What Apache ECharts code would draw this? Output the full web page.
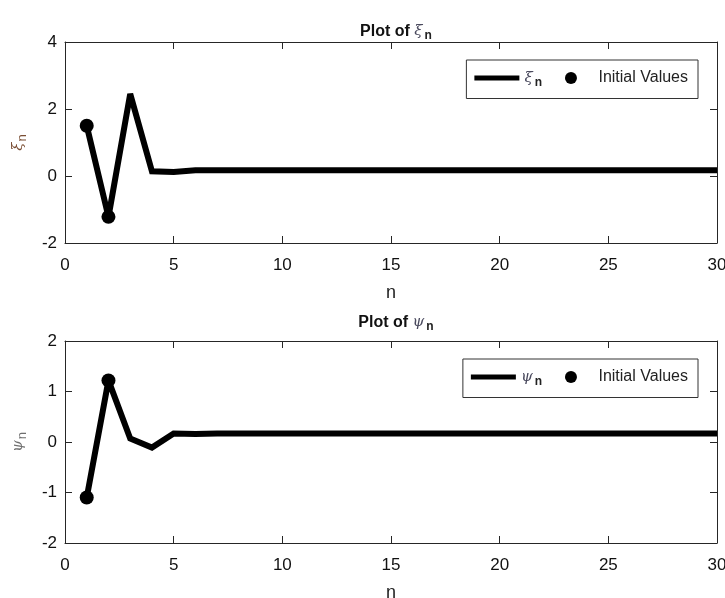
<!DOCTYPE html>
<html>
<head>
<meta charset="utf-8">
<script src="https://cdn.jsdelivr.net/npm/echarts@6/dist/echarts.min.js"></script>
<style>
  html, body { margin: 0; padding: 0; background: #fff; }
  #chart { width: 725px; height: 598px; }
</style>
</head>
<body>
<div id="chart"></div>
<script>
// step index n = 1..30
var nVals = [1, 2, 3, 4, 5, 6, 7, 8, 9, 10, 11, 12, 13, 14, 15,
             16, 17, 18, 19, 20, 21, 22, 23, 24, 25, 26, 27, 28, 29, 30];

// xi_n
var xiVals = [1.5, -1.22, 2.45, 0.14, 0.12, 0.17, 0.17, 0.17, 0.17, 0.17,
              0.17, 0.17, 0.17, 0.17, 0.17, 0.17, 0.17, 0.17, 0.17, 0.17,
              0.17, 0.17, 0.17, 0.17, 0.17, 0.17, 0.17, 0.17, 0.17, 0.17];

// psi_n
var psiVals = [-1.1, 1.22, 0.07, -0.11, 0.17, 0.16, 0.17, 0.17, 0.17, 0.17,
               0.17, 0.17, 0.17, 0.17, 0.17, 0.17, 0.17, 0.17, 0.17, 0.17,
               0.17, 0.17, 0.17, 0.17, 0.17, 0.17, 0.17, 0.17, 0.17, 0.17];

// initial values (first two steps)
var initN = [1, 2];
var xiInit = [1.5, -1.22];
var psiInit = [-1.1, 1.22];

var xTicks = { min: 0, max: 30, interval: 5 };
var xiTicks = { min: -2, max: 4, interval: 2 };
var psiTicks = { min: -2, max: 2, interval: 1 };

function pairs(xs, ys) {
  return xs.map(function (x, i) { return [x, ys[i]]; });
}

var FONT = '"Liberation Sans", Arial, sans-serif';
var AXIS_COLOR = '#262626';

var greekRich = {
  g: { fontFamily: '"DejaVu Serif", serif', fontStyle: 'italic', fontWeight: 'normal', fontSize: 15, color: '#4a4a5e' },
  s: { fontFamily: FONT, fontSize: 12, fontWeight: 'bold', color: '#222', padding: [9, 0, 0, 2] }
};

function bottomX(grid) {
  return {
    type: 'value', gridIndex: grid, min: xTicks.min, max: xTicks.max, interval: xTicks.interval,
    name: 'n', nameLocation: 'middle', nameGap: 41,
    nameTextStyle: { fontFamily: FONT, fontSize: 18, color: '#222' },
    axisLine: { onZero: false, lineStyle: { color: AXIS_COLOR, width: 1 } },
    axisTick: { inside: true, length: 7, lineStyle: { color: AXIS_COLOR } },
    axisLabel: { margin: 14, fontFamily: FONT, fontSize: 17, color: '#111' },
    splitLine: { show: false }
  };
}
function topX(grid) {
  return {
    type: 'value', gridIndex: grid, position: 'top', min: xTicks.min, max: xTicks.max, interval: xTicks.interval,
    axisLine: { onZero: false, lineStyle: { color: AXIS_COLOR, width: 1 } },
    axisTick: { inside: true, length: 7, lineStyle: { color: AXIS_COLOR } },
    axisLabel: { show: false }, splitLine: { show: false }
  };
}
function leftY(grid, t, greek, color) {
  return {
    type: 'value', gridIndex: grid, min: t.min, max: t.max, interval: t.interval,
    name: '{g|' + greek + '}{s|n}', nameLocation: 'middle', nameGap: 36, nameRotate: 90,
    nameTextStyle: {
      rich: {
        g: { fontFamily: '"DejaVu Serif", serif', fontStyle: 'italic', fontSize: 15, color: color },
        s: { fontFamily: FONT, fontSize: 13, color: color, padding: [8, 0, 0, 1] }
      }
    },
    axisLine: { onZero: false, lineStyle: { color: AXIS_COLOR, width: 1 } },
    axisTick: { inside: true, length: 7, lineStyle: { color: AXIS_COLOR } },
    axisLabel: { margin: 8, fontFamily: FONT, fontSize: 17, color: '#111' },
    splitLine: { show: false }
  };
}
function rightY(grid, t) {
  return {
    type: 'value', gridIndex: grid, position: 'right', min: t.min, max: t.max, interval: t.interval,
    axisLine: { onZero: false, lineStyle: { color: AXIS_COLOR, width: 1 } },
    axisTick: { inside: true, length: 7, lineStyle: { color: AXIS_COLOR } },
    axisLabel: { show: false }, splitLine: { show: false }
  };
}

function legendFor(idx, top, greek) {
  return {
    show: true, right: 27, top: top, orient: 'horizontal',
    selectedMode: false,
    borderColor: '#333', borderWidth: 1, backgroundColor: '#fff',
    padding: [10, 10, 10, 8],
    itemWidth: 45, itemHeight: 12, itemGap: 23,
    symbolKeepAspect: true,
    textStyle: { fontFamily: FONT, fontSize: 16, color: '#222', rich: greekRich },
    formatter: function (name) {
      if (name === 'Initial Values') return 'Initial Values';
      return '{g|' + greek + '}{s|n}';
    },
    data: [
      { name: idx === 0 ? 'xi' : 'psi', icon: 'path://M0,0H45V5H0Z' },
      { name: 'Initial Values', icon: 'circle' }
    ]
  };
}

var lineStyle = { color: '#000', width: 6, join: 'miter', miterLimit: 2, cap: 'butt' };

var chart = echarts.init(document.getElementById('chart'), null, { renderer: 'canvas' });

chart.setOption({
  backgroundColor: '#fff',
  animation: false,
  title: [
    {
      text: 'Plot of {g|ξ}{s|n}', left: 391, top: 16, textAlign: 'center',
      textStyle: { fontFamily: FONT, fontSize: 16, fontWeight: 'bold', color: '#111', rich: greekRich }
    },
    {
      text: 'Plot of {g|ψ}{s|n}', left: 391, top: 307, textAlign: 'center',
      textStyle: { fontFamily: FONT, fontSize: 16, fontWeight: 'bold', color: '#111', rich: greekRich }
    }
  ],
  legend: [legendFor(0, 60, 'ξ'), legendFor(1, 359, 'ψ')],
  grid: [
    { left: 65, right: 8, top: 42, height: 201, outerBoundsMode: 'none', containLabel: false },
    { left: 65, right: 8, top: 341, height: 202, outerBoundsMode: 'none', containLabel: false }
  ],
  xAxis: [bottomX(0), topX(0), bottomX(1), topX(1)],
  yAxis: [
    leftY(0, xiTicks, 'ξ', '#7a4e34'), rightY(0, xiTicks),
    leftY(1, psiTicks, 'ψ', '#6f6f6f'), rightY(1, psiTicks)
  ],
  series: [
    {
      name: 'xi', type: 'line', xAxisIndex: 0, yAxisIndex: 0,
      data: pairs(nVals, xiVals), symbol: 'none', color: '#000',
      lineStyle: lineStyle
    },
    {
      name: 'Initial Values', type: 'scatter', xAxisIndex: 0, yAxisIndex: 0, z: 5,
      data: pairs(initN, xiInit), symbol: 'circle', symbolSize: 14,
      itemStyle: { color: '#000', opacity: 1 }
    },
    {
      name: 'psi', type: 'line', xAxisIndex: 2, yAxisIndex: 2,
      data: pairs(nVals, psiVals), symbol: 'none', color: '#000',
      lineStyle: lineStyle
    },
    {
      name: 'Initial Values', type: 'scatter', xAxisIndex: 2, yAxisIndex: 2, z: 5,
      data: pairs(initN, psiInit), symbol: 'circle', symbolSize: 14,
      itemStyle: { color: '#000', opacity: 1 }
    }
  ]
});
</script>
</body>
</html>
